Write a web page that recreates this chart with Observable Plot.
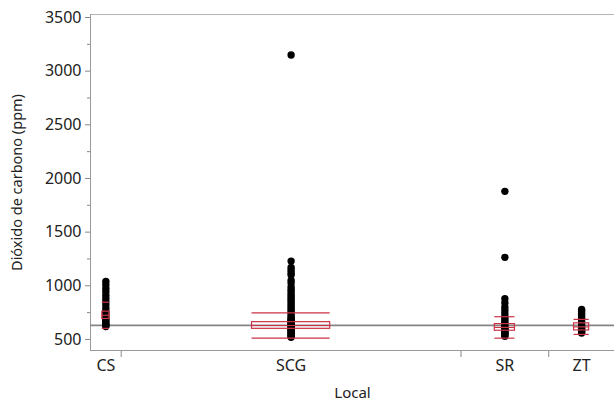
<!DOCTYPE html>
<html>
<head>
<meta charset="utf-8">
<script src="https://cdn.jsdelivr.net/npm/d3@7"></script>
<script src="https://cdn.jsdelivr.net/npm/@observablehq/plot@0.6"></script>
<style>
  html, body { margin: 0; padding: 0; background: #fff; }
  #chart { width: 614px; height: 405px; }
</style>
</head>
<body>
<div id="chart"></div>
<script>
// ---- Data ----
const categories = ["CS", "SCG", "SR", "ZT"];
// sample sizes (estimated from the proportional category widths)
const sampleSize = [14, 155, 40, 30];

const csValues  = [1040, 1010, 975, 945, 910, 880, 850, 820, 790, 760, 740, 720, 700, 685, 670, 655, 640, 630, 620];
const scgValues = [3150, 1230, 1170, 1145, 1120, 1100, 1050, 1025, 990, 965, 945, 920, 900, 880, 860, 840, 820, 800, 780,
                   760, 740, 720, 700, 690, 680, 670, 660, 650, 640, 630, 620, 610, 600, 590, 580, 570, 560, 550, 540, 530, 520];
const srValues  = [1880, 1265, 880, 840, 800, 770, 740, 710, 690, 670, 650, 630, 610, 600, 590, 580, 570, 560, 550, 540, 530];
const ztValues  = [780, 765, 745, 725, 705, 685, 665, 645, 625, 610, 600, 590, 580, 570, 560];

const groupMeans   = [725, 630, 612, 617];
const groupStdDevs = [122, 117, 100, 70];
const meanErrors   = [34, 31, 31, 33];
const grandMean = 631;

const yMajorTicks = [500, 1000, 1500, 2000, 2500, 3000, 3500];
const yMinorTicks = [750, 1250, 1750, 2250, 2750, 3250];

// ---- Derived structures ----
const valueLists = [csValues, scgValues, srValues, ztValues];
const total = d3.sum(sampleSize);
const starts = sampleSize.map((n, i) => d3.sum(sampleSize.slice(0, i)));
const groups = categories.map((c, i) => {
  const start = starts[i], end = start + sampleSize[i], center = (start + end) / 2;
  const half = sampleSize[i] * 0.115;
  return {cat: c, start, end, center, x1: center - half, x2: center + half,
          mean: groupMeans[i], sd: groupStdDevs[i], err: meanErrors[i]};
});
const points = valueLists.flatMap((vals, i) => vals.map(v => ({cat: categories[i], x: groups[i].center, y: v})));
const boundaries = groups.slice(0, -1).map(g => g.end);
const sdLines = groups.flatMap(g => [
  {x1: g.x1, x2: g.x2, y: g.mean},
  {x1: g.x1, x2: g.x2, y: g.mean + g.sd},
  {x1: g.x1, x2: g.x2, y: g.mean - g.sd}
]);

const red = "#cc3347";
const font = "'Noto Sans', 'Open Sans', sans-serif";

const chart = Plot.plot({
  width: 614,
  height: 405,
  marginLeft: 90,
  marginRight: 0,
  marginTop: 14,
  marginBottom: 55,
  style: {fontFamily: font, fontSize: "16px", color: "#222", background: "#fff"},
  x: {domain: [0, total], axis: null},
  y: {domain: [397, 3528], axis: null},
  marks: [
    Plot.frame({stroke: "#b4b4b4"}),
    Plot.axisY({ticks: yMajorTicks, tickSize: 5, tickPadding: 4, stroke: "#888", label: null, fontSize: 16, tickFormat: d => String(d)}),
    Plot.axisY({ticks: yMinorTicks, tickSize: 3, stroke: "#888", label: null, tickFormat: () => ""}),
    Plot.axisX({ticks: boundaries, tickSize: 7, stroke: "#888", label: null, tickFormat: () => ""}),
    Plot.ruleX([0], {stroke: "#999"}),
    Plot.ruleY([397], {stroke: "#999"}),
    Plot.ruleY([grandMean], {stroke: "#858585", strokeWidth: 1.6}),
    Plot.dot(points, {x: "x", y: "y", r: 3.7, fill: "#000", stroke: null}),
    Plot.rect(groups, {x1: "x1", x2: "x2", y1: d => d.mean - d.err, y2: d => d.mean + d.err, fill: "none", stroke: red, strokeWidth: 1.2}),
    Plot.ruleY(sdLines, {x1: "x1", x2: "x2", y: "y", stroke: red, strokeWidth: 1.2}),
    Plot.text(groups, {x: "center", text: "cat", frameAnchor: "bottom", dy: 20, fontSize: 16, fill: "#222"}),
    Plot.text(["Local"], {frameAnchor: "bottom", dy: 47, fontSize: 15, fill: "#222"}),
    Plot.text(["Dióxido de carbono (ppm)"], {frameAnchor: "left", textAnchor: "middle", dx: -73, rotate: -90, fontSize: 14.5, fill: "#222"})
  ]
});
document.getElementById("chart").appendChild(chart);
</script>
</body>
</html>
